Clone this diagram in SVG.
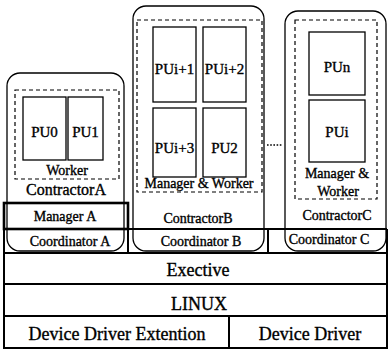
<svg xmlns="http://www.w3.org/2000/svg" width="388" height="349" viewBox="0 0 388 349">
<style>
text{font-family:"Liberation Serif","Times New Roman",serif;fill:#000;stroke:#000;stroke-width:0.35;text-anchor:middle}
.t14{font-size:14px}
.t15{font-size:15px}
.t16{font-size:16px}
.t18{font-size:18px}
.contractor{fill:none;stroke:#000;stroke-width:1.3}
.dash{fill:none;stroke:#000;stroke-width:1.2;stroke-dasharray:4 3}
.pu{fill:#fff;stroke:#000;stroke-width:1.3}
.grid{fill:none;stroke:#000;stroke-width:2}
.mgr{fill:none;stroke:#000;stroke-width:2.6}
</style>
<rect width="388" height="349" fill="#fff"/>
<g id="contractorA">
<rect class="contractor" x="7" y="73" width="117" height="178" rx="13"/>
<rect class="dash" x="15" y="90" width="104" height="89"/>
<rect class="pu" x="23" y="97" width="43" height="63"/>
<rect class="pu" x="68" y="97" width="35" height="63"/>
<text class="t15" x="44.5" y="137">PU0</text>
<text class="t15" x="85.5" y="137">PU1</text>
<text class="t14" x="67" y="175">Worker</text>
<text class="t16" x="66" y="195">ContractorA</text>
</g>
<g id="contractorB">
<rect class="contractor" x="133" y="6" width="131" height="245" rx="13"/>
<rect class="dash" x="137" y="20" width="125" height="172"/>
<rect class="pu" x="153" y="27" width="43" height="75"/>
<rect class="pu" x="203" y="27" width="43" height="75"/>
<rect class="pu" x="153" y="108" width="43" height="69"/>
<rect class="pu" x="203" y="108" width="43" height="69"/>
<text class="t15" x="174.5" y="74">PUi+1</text>
<text class="t15" x="224.5" y="74">PUi+2</text>
<text class="t15" x="174.5" y="153">PUi+3</text>
<text class="t15" x="224.5" y="153">PU2</text>
<text class="t14" x="199" y="188">Manager &amp; Worker</text>
<text class="t14" x="198" y="223">ContractorB</text>
</g>
<g id="contractorC">
<rect class="contractor" x="285" y="11" width="101" height="240" rx="13"/>
<rect class="dash" x="295" y="20" width="82" height="179"/>
<rect class="pu" x="309" y="32" width="56" height="63"/>
<rect class="pu" x="309" y="100" width="56" height="62"/>
<text class="t15" x="337" y="72">PUn</text>
<text class="t15" x="337" y="137">PUi</text>
<text class="t14" x="337" y="178">Manager &amp;</text>
<text class="t14" x="338" y="196">Worker</text>
<text class="t14" x="337" y="220">ContractorC</text>
</g>
<g id="ellipsis">
<line x1="267" y1="145" x2="283" y2="145" stroke="#000" stroke-width="1.6" stroke-dasharray="1.6 1.6"/>
</g>
<g id="managerA">
<rect class="mgr" x="4" y="203" width="124" height="26"/>
<text class="t14" x="65" y="221">Manager A</text>
</g>
<g id="coordinators">
<line class="grid" x1="4" y1="229" x2="387" y2="229"/>
<line class="grid" x1="128" y1="203" x2="128" y2="253"/>
<line class="grid" x1="268" y1="229" x2="268" y2="253"/>
<text class="t14" x="70" y="246">Coordinator A</text>
<text class="t14" x="201" y="246">Coordinator B</text>
<text class="t14" x="329" y="244">Coordinator C</text>
</g>
<g id="exective">
<line class="grid" x1="4" y1="253" x2="387" y2="253"/>
<text class="t18" x="198" y="276">Exective</text>
</g>
<g id="linux">
<line class="grid" x1="4" y1="284" x2="387" y2="284"/>
<text class="t18" x="199" y="310">LINUX</text>
</g>
<g id="drivers">
<line class="grid" x1="4" y1="316" x2="387" y2="316"/>
<line class="grid" x1="229" y1="316" x2="229" y2="348"/>
<text class="t18" x="117" y="340">Device Driver Extention</text>
<text class="t18" x="310" y="340">Device Driver</text>
</g>
<g id="frame">
<polyline class="grid" points="4,203 4,348 387,348 387,229"/>
</g>
</svg>
